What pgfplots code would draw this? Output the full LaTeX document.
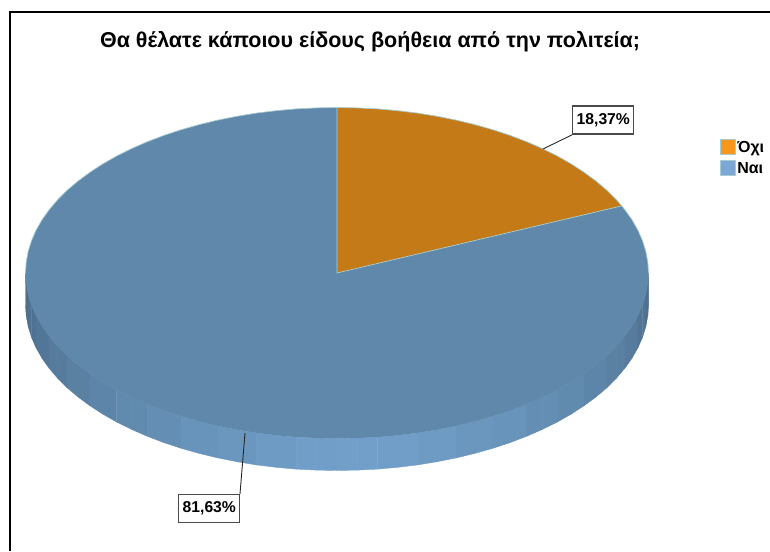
\documentclass[border=0pt]{standalone}
\usepackage{pgfplots}
\pgfplotsset{compat=1.18}
\usepackage{fontspec}
\setmainfont{Liberation Sans}
\definecolor{sideL}{HTML}{72A0CA}
\definecolor{sideD}{HTML}{4C6E8C}
\definecolor{topB}{HTML}{5F88AA}
\definecolor{topO}{HTML}{C47A17}
\definecolor{edge}{HTML}{A6CCD2}
\definecolor{legO}{HTML}{F7981D}
\definecolor{legB}{HTML}{7BA7D7}
\definecolor{boxc}{HTML}{4A4A4A}
% x1, ytop1, ybottom1, x2, ytop2, ybottom2, share of light colour
\newcommand\facet[7]{\addplot[fill=sideL!#7!sideD,draw=sideL!#7!sideD,line width=.4pt,forget plot] coordinates {(#1,#2)(#4,#5)(#4,#6)(#1,#3)} --cycle;}
\begin{document}
\begin{tikzpicture}
\begin{axis}[
  scale only axis, width=770pt, height=551pt,
  xmin=0, xmax=770, ymin=0, ymax=551, y dir=reverse,
  hide axis, no markers,
  legend image code/.code={\draw[#1] (0pt,-7pt) rectangle (15pt,8pt);},
  legend style={at={(axis cs:720,139)},anchor=north west,draw=none,fill=none,
    font=\bfseries\fontsize{16}{18}\selectfont,inner sep=0pt,outer sep=0pt,
    row sep=5pt, nodes={inner sep=1.5pt}},
  legend cell align=left,
]
\path (axis cs:0,0) rectangle (axis cs:770,551);
% side of the disc
\facet{25.5}{273}{305}{26.2}{283.8}{315.8}{2}
\facet{26.2}{283.8}{315.8}{28.2}{294.6}{326.6}{2}
\facet{28.2}{294.6}{326.6}{31.5}{305.3}{337.3}{9}
\facet{31.5}{305.3}{337.3}{36.1}{315.8}{347.8}{9}
\facet{36.1}{315.8}{347.8}{42}{326.2}{358.2}{17}
\facet{42}{326.2}{358.2}{49.2}{336.3}{368.3}{17}
\facet{49.2}{336.3}{368.3}{57.6}{346.2}{378.2}{26}
\facet{57.6}{346.2}{378.2}{67.2}{355.8}{387.8}{26}
\facet{67.2}{355.8}{387.8}{78}{364.9}{396.9}{36}
\facet{78}{364.9}{396.9}{89.9}{373.7}{405.7}{36}
\facet{89.9}{373.7}{405.7}{102.8}{382.1}{414.1}{46}
\facet{102.8}{382.1}{414.1}{116.7}{390}{422}{46}
\facet{116.7}{390}{422}{131.6}{397.4}{429.4}{56}
\facet{131.6}{397.4}{429.4}{147.4}{404.3}{436.3}{56}
\facet{147.4}{404.3}{436.3}{163.9}{410.6}{442.6}{65}
\facet{163.9}{410.6}{442.6}{181.2}{416.3}{448.3}{65}
\facet{181.2}{416.3}{448.3}{199.2}{421.4}{453.4}{74}
\facet{199.2}{421.4}{453.4}{217.8}{425.9}{457.9}{74}
\facet{217.8}{425.9}{457.9}{236.9}{429.7}{461.7}{82}
\facet{236.9}{429.7}{461.7}{256.4}{432.9}{464.9}{82}
\facet{256.4}{432.9}{464.9}{276.2}{435.3}{467.3}{90}
\facet{276.2}{435.3}{467.3}{296.3}{437.1}{469.1}{90}
\facet{296.3}{437.1}{469.1}{316.6}{438.1}{470.1}{96}
\facet{316.6}{438.1}{470.1}{337}{438.5}{470.5}{96}
\facet{337}{438.5}{470.5}{357.4}{438.1}{470.1}{98}
\facet{357.4}{438.1}{470.1}{377.7}{437.1}{469.1}{98}
\facet{377.7}{437.1}{469.1}{397.8}{435.3}{467.3}{96}
\facet{397.8}{435.3}{467.3}{417.6}{432.9}{464.9}{96}
\facet{417.6}{432.9}{464.9}{437.1}{429.7}{461.7}{90}
\facet{437.1}{429.7}{461.7}{456.2}{425.9}{457.9}{90}
\facet{456.2}{425.9}{457.9}{474.8}{421.4}{453.4}{82}
\facet{474.8}{421.4}{453.4}{492.8}{416.3}{448.3}{82}
\facet{492.8}{416.3}{448.3}{510.1}{410.6}{442.6}{74}
\facet{510.1}{410.6}{442.6}{526.6}{404.3}{436.3}{74}
\facet{526.6}{404.3}{436.3}{542.4}{397.4}{429.4}{65}
\facet{542.4}{397.4}{429.4}{557.3}{390}{422}{65}
\facet{557.3}{390}{422}{571.2}{382.1}{414.1}{56}
\facet{571.2}{382.1}{414.1}{584.1}{373.7}{405.7}{56}
\facet{584.1}{373.7}{405.7}{596}{364.9}{396.9}{46}
\facet{596}{364.9}{396.9}{606.8}{355.8}{387.8}{46}
\facet{606.8}{355.8}{387.8}{616.4}{346.2}{378.2}{36}
\facet{616.4}{346.2}{378.2}{624.8}{336.3}{368.3}{36}
\facet{624.8}{336.3}{368.3}{632}{326.2}{358.2}{26}
\facet{632}{326.2}{358.2}{637.9}{315.8}{347.8}{26}
\facet{637.9}{315.8}{347.8}{642.5}{305.3}{337.3}{15}
\facet{642.5}{305.3}{337.3}{645.8}{294.6}{326.6}{15}
\facet{645.8}{294.6}{326.6}{647.8}{283.8}{315.8}{4}
\facet{647.8}{283.8}{315.8}{648.5}{273}{305}{4}
% top: Ναι 81,63 %
\addplot[fill=topB,draw=none,forget plot] coordinates {
(337,273)(621.7,205.9)(624.8,209.7)(632,219.8)(637.9,230.2)(642.5,240.7)(645.8,251.4)(647.8,262.2)(648.5,273)
(647.8,283.8)(645.8,294.6)(642.5,305.3)(637.9,315.8)(632,326.2)(624.8,336.3)(616.4,346.2)(606.8,355.8)
(596,364.9)(584.1,373.7)(571.2,382.1)(557.3,390)(542.4,397.4)(526.6,404.3)(510.1,410.6)(492.8,416.3)
(474.8,421.4)(456.2,425.9)(437.1,429.7)(417.6,432.9)(397.8,435.3)(377.7,437.1)(357.4,438.1)(337,438.5)
(316.6,438.1)(296.3,437.1)(276.2,435.3)(256.4,432.9)(236.9,429.7)(217.8,425.9)(199.2,421.4)(181.2,416.3)
(163.9,410.6)(147.4,404.3)(131.6,397.4)(116.7,390)(102.8,382.1)(89.9,373.7)(78,364.9)(67.2,355.8)
(57.6,346.2)(49.2,336.3)(42,326.2)(36.1,315.8)(31.5,305.3)(28.2,294.6)(26.2,283.8)(25.5,273)
(26.2,262.2)(28.2,251.4)(31.5,240.7)(36.1,230.2)(42,219.8)(49.2,209.7)(57.6,199.8)(67.2,190.2)
(78,181.1)(89.9,172.3)(102.8,163.9)(116.7,156)(131.6,148.6)(147.4,141.7)(163.9,135.4)(181.2,129.7)
(199.2,124.6)(217.8,120.1)(236.9,116.3)(256.4,113.1)(276.2,110.7)(296.3,108.9)(316.6,107.9)(337,107.5)
} --cycle;
% top: Όχι 18,37 %
\addplot[fill=topO,draw=none,forget plot] coordinates {
(337,273)(337,107.5)(357.4,107.9)(377.7,108.9)(397.8,110.7)(417.6,113.1)(437.1,116.3)(456.2,120.1)
(474.8,124.6)(492.8,129.7)(510.1,135.4)(526.6,141.7)(542.4,148.6)(557.3,156)(571.2,163.9)(584.1,172.3)
(596,181.1)(606.8,190.2)(616.4,199.8)(621.7,205.9)
} --cycle;
% light rim on the upper arc and on the slice boundaries
\addplot[draw=edge,line width=.7pt,forget plot] coordinates {
(25.5,273)(26.2,262.2)(28.2,251.4)(31.5,240.7)(36.1,230.2)(42,219.8)(49.2,209.7)(57.6,199.8)(67.2,190.2)
(78,181.1)(89.9,172.3)(102.8,163.9)(116.7,156)(131.6,148.6)(147.4,141.7)(163.9,135.4)(181.2,129.7)
(199.2,124.6)(217.8,120.1)(236.9,116.3)(256.4,113.1)(276.2,110.7)(296.3,108.9)(316.6,107.9)(337,107.5)
(357.4,107.9)(377.7,108.9)(397.8,110.7)(417.6,113.1)(437.1,116.3)(456.2,120.1)
(474.8,124.6)(492.8,129.7)(510.1,135.4)(526.6,141.7)(542.4,148.6)(557.3,156)(571.2,163.9)(584.1,172.3)
(596,181.1)(606.8,190.2)(616.4,199.8)(621.7,205.9)(624.8,209.7)(632,219.8)(637.9,230.2)(642.5,240.7)(645.8,251.4)(647.8,262.2)(648.5,273)};
\addplot[draw=edge,line width=.7pt,forget plot] coordinates {(337,107.5)(337,273)(621.7,205.9)};
% leader lines
\addplot[draw=black!85,line width=.9pt,forget plot] coordinates {(572.7,134.5)(543,149)};
\addplot[draw=black!85,line width=.9pt,forget plot] coordinates {(240,494)(245,433)};
% frame
\addplot[draw=black,line width=2pt,forget plot] coordinates {(10,551)(10,12)(770,12)};
% legend
\addlegendimage{fill=legO,draw=edge,line width=.8pt}
\addlegendentry{Όχι}
\addlegendimage{fill=legB,draw=edge,line width=.8pt}
\addlegendentry{Ναι}
% texts
\node[anchor=center,font=\bfseries\fontsize{21.5}{24}\selectfont] at (axis cs:370,42) {Θα θέλατε κάποιου είδους βοήθεια από την πολιτεία;};
\node[draw=boxc,line width=1.2pt,fill=white,minimum width=61pt,minimum height=28pt,inner sep=0pt,font=\bfseries\fontsize{15.7}{17}\selectfont] at (axis cs:603.3,120) {18,37\%};
\node[draw=boxc,line width=1.2pt,fill=white,minimum width=61pt,minimum height=28pt,inner sep=0pt,font=\bfseries\fontsize{15.7}{17}\selectfont] at (axis cs:209.3,508.3) {81,63\%};
\end{axis}
\end{tikzpicture}
\end{document}
